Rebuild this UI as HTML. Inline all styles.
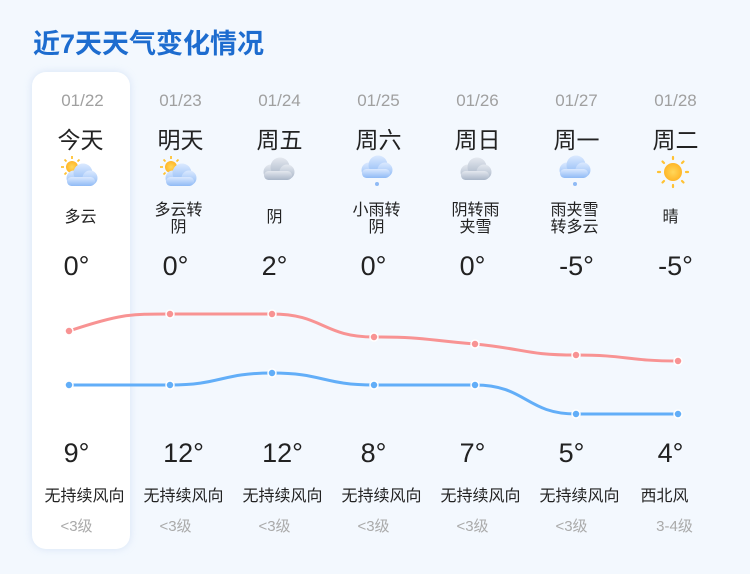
<!DOCTYPE html>
<html><head><meta charset="utf-8"><style>
body{margin:0;width:750px;height:574px;background:#f3f8fe;font-family:"Liberation Sans","Noto Sans CJK SC",sans-serif;position:relative;overflow:hidden}
.t{position:absolute;left:33px;top:22px;font-size:27px;font-weight:bold;color:#1d6ccf}
.card{position:absolute;left:32px;top:72px;width:98px;height:477px;background:#fff;border-radius:14px;box-shadow:0 0 8px rgba(160,190,230,.35)}
.c{position:absolute;width:99px;text-align:center;color:#222}
.d{top:91px;font-size:17px;color:#a0a0a0}
.n{top:121px;font-size:23px}
.w{font-size:16px;line-height:17px}
.h{top:251px;font-size:27px}
.l{top:438px;font-size:27px}
.f{top:482px;font-size:16px}
.v{top:515px;font-size:15px;color:#aaa}
</style></head><body>
<div class="t">近7天天气变化情况</div>
<div class="card"></div>
<svg width="750" height="574" style="position:absolute;left:0;top:0">
<defs>
<radialGradient id="sun"><stop offset="0" stop-color="#ffd75a"/><stop offset="1" stop-color="#ffb628"/></radialGradient>
<linearGradient id="bc" x1="0" y1="0" x2="0" y2="1"><stop offset="0" stop-color="#dbe9ff"/><stop offset="1" stop-color="#8fbaf5"/></linearGradient>
<linearGradient id="gc" x1="0" y1="0" x2="0" y2="1"><stop offset="0" stop-color="#e4e8ef"/><stop offset="1" stop-color="#a9b6c8"/></linearGradient>
<g id="cl"><circle cx="-6" cy="5" r="7.5"/><circle cx="3" cy="0" r="9.5"/><circle cx="10" cy="5" r="7.5"/><rect x="-13" y="4" width="28" height="9" rx="4.5"/></g>
</defs>
<path d="M69,331 C120,314 130,314 170,314 C221,314 221,314 272,314 C323,314 323,337 374,337 C425,337 425,340 475,344 C526,349 526,355 576,355 C627,355 627,361 678,361" fill="none" stroke="#f89393" stroke-width="3"/>
<path d="M69,385 C120,385 120,385 170,385 C221,385 221,373 272,373 C323,373 323,385 374,385 C425,385 425,385 475,385 C526,385 526,414 576,414 C627,414 627,414 678,414" fill="none" stroke="#62aef8" stroke-width="3"/>
<g fill="#f89393" stroke="#fff" stroke-width="1.5"><circle cx="69" cy="331" r="4"/><circle cx="170" cy="314" r="4"/><circle cx="272" cy="314" r="4"/><circle cx="374" cy="337" r="4"/><circle cx="475" cy="344" r="4"/><circle cx="576" cy="355" r="4"/><circle cx="678" cy="361" r="4"/></g>
<g fill="#62aef8" stroke="#fff" stroke-width="1.5"><circle cx="69" cy="385" r="4"/><circle cx="170" cy="385" r="4"/><circle cx="272" cy="373" r="4"/><circle cx="374" cy="385" r="4"/><circle cx="475" cy="385" r="4"/><circle cx="576" cy="414" r="4"/><circle cx="678" cy="414" r="4"/></g>
<g transform="translate(72,167)"><circle cx="0" cy="0" r="6" fill="url(#sun)"/><g stroke="#ffc233" stroke-width="1.8"><path d="M0,-11v3M-11,0h3M-7.5,-7.5l2,2M7.5,-7.5l-2,2M-7.5,7.5l2,-2"/></g></g>
<use href="#cl" x="80" y="173" fill="url(#bc)"/>
<g transform="translate(171,167)"><circle cx="0" cy="0" r="6" fill="url(#sun)"/><g stroke="#ffc233" stroke-width="1.8"><path d="M0,-11v3M-11,0h3M-7.5,-7.5l2,2M7.5,-7.5l-2,2M-7.5,7.5l2,-2"/></g></g>
<use href="#cl" x="179" y="173" fill="url(#bc)"/>
<use href="#cl" x="277" y="167" fill="url(#gc)"/>
<use href="#cl" x="375" y="165" fill="url(#bc)"/><circle cx="377" cy="184" r="2" fill="#8fbaf5"/>
<use href="#cl" x="474" y="167" fill="url(#gc)"/>
<use href="#cl" x="573" y="165" fill="url(#bc)"/><circle cx="575" cy="184" r="2" fill="#8fbaf5"/>
<g transform="translate(673,172)"><circle r="9" fill="url(#sun)"/><g stroke="#ffc233" stroke-width="2.2" stroke-linecap="round"><path d="M0,-15v2M0,13v2M-15,0h2M13,0h2M-10.5,-10.5l1.5,1.5M10.5,-10.5l-1.5,1.5M-10.5,10.5l1.5,-1.5M10.5,10.5l-1.5,-1.5"/></g></g>
</svg>
<div class="c d" style="left:33px">01/22</div><div class="c d" style="left:131px">01/23</div><div class="c d" style="left:230px">01/24</div><div class="c d" style="left:329px">01/25</div><div class="c d" style="left:428px">01/26</div><div class="c d" style="left:527px">01/27</div><div class="c d" style="left:626px">01/28</div>
<div class="c n" style="left:31px">今天</div><div class="c n" style="left:131px">明天</div><div class="c n" style="left:230px">周五</div><div class="c n" style="left:329px">周六</div><div class="c n" style="left:428px">周日</div><div class="c n" style="left:527px">周一</div><div class="c n" style="left:626px">周二</div>
<div class="c w" style="left:31px;top:209px">多云</div>
<div class="c w" style="left:129px;top:202px">多云转<br>阴</div>
<div class="c w" style="left:225px;top:209px">阴</div>
<div class="c w" style="left:327px;top:202px">小雨转<br>阴</div>
<div class="c w" style="left:426px;top:202px">阴转雨<br>夹雪</div>
<div class="c w" style="left:525px;top:202px">雨夹雪<br>转多云</div>
<div class="c w" style="left:621px;top:209px">晴</div>
<div class="c h" style="left:27px">0°</div><div class="c h" style="left:126px">0°</div><div class="c h" style="left:225px">2°</div><div class="c h" style="left:324px">0°</div><div class="c h" style="left:423px">0°</div><div class="c h" style="left:527px">-5°</div><div class="c h" style="left:626px">-5°</div>
<div class="c l" style="left:27px">9°</div><div class="c l" style="left:134px">12°</div><div class="c l" style="left:233px">12°</div><div class="c l" style="left:324px">8°</div><div class="c l" style="left:423px">7°</div><div class="c l" style="left:522px">5°</div><div class="c l" style="left:621px">4°</div>
<div class="c f" style="left:35px">无持续风向</div><div class="c f" style="left:134px">无持续风向</div><div class="c f" style="left:233px">无持续风向</div><div class="c f" style="left:332px">无持续风向</div><div class="c f" style="left:431px">无持续风向</div><div class="c f" style="left:530px">无持续风向</div><div class="c f" style="left:615px">西北风</div>
<div class="c v" style="left:27px">&lt;3级</div><div class="c v" style="left:126px">&lt;3级</div><div class="c v" style="left:225px">&lt;3级</div><div class="c v" style="left:324px">&lt;3级</div><div class="c v" style="left:423px">&lt;3级</div><div class="c v" style="left:522px">&lt;3级</div><div class="c v" style="left:625px">3-4级</div>
</body></html>
